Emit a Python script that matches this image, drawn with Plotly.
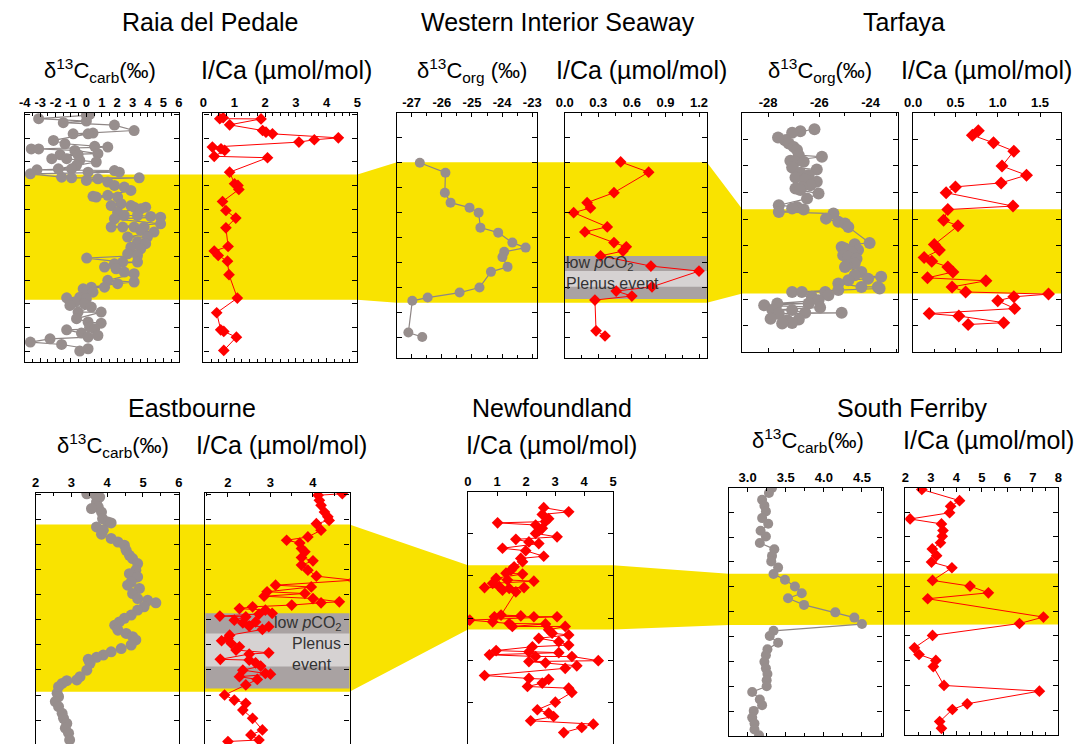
import plotly.graph_objects as go

W, H = 1082, 744
FONT = "Liberation Sans, Arial, Helvetica, sans-serif"

# ---------------- data: (depth in section units, proxy value) ----------------
raia_d13c = [
    (0.00, 0.21), (0.04, 0.00), (0.18, -3.10), (0.28, 0.00), (0.35, -1.50), (0.45, 1.82),
    (0.68, 3.10), (0.79, 0.43), (0.82, 0.11), (0.82, -0.86), (1.10, -2.14), (1.24, -1.39),
    (1.35, 0.54), (1.38, 1.39), (1.46, -3.58), (1.46, -3.10), (1.52, -0.75), (1.66, 0.75),
    (1.70, -1.71), (1.70, -0.54), (1.87, -2.25), (1.87, -1.28), (1.94, -0.43), (2.01, 0.64),
    (2.15, -0.64), (2.30, -1.82), (2.30, -0.96), (2.34, -3.21), (2.37, 1.82), (2.44, 0.11),
    (2.44, 2.14), (2.51, -3.64), (2.65, -1.61),
    (2.68, -0.96), (2.68, 3.43), (2.72, 0.75), (2.79, 0.00), (2.86, 1.39), (3.00, 1.82),
    (3.07, 2.46), (3.21, 2.89), (3.42, 1.39), (3.46, 0.43), (3.49, 0.64), (3.49, 2.03),
    (3.77, 2.25), (3.85, 1.61), (3.85, 2.89), (3.92, 3.10), (3.92, 3.85), (3.99, 3.53),
    (4.13, 2.03), (4.27, 2.46), (4.27, 3.32), (4.31, 4.18), (4.34, 4.82), (4.41, 1.82),
    (4.62, 4.82), (4.76, 1.61), (4.76, 2.36), (4.76, 3.10), (4.76, 3.75), (4.90, 3.53),
    (4.97, 4.39), (5.18, 2.68), (5.18, 3.96), (5.39, 3.32), (5.46, 3.85), (5.61, 2.89),
    (5.68, 3.53), (5.89, 2.68), (5.96, 3.32), (6.07, 0.02), (6.24, 2.36), (6.24, 3.32),
    (6.31, 1.82), (6.45, 1.18), (6.52, 1.93), (6.66, 2.46), (6.73, 3.10), (7.01, 1.39),
    (7.08, 3.10), (7.15, 2.03), (7.30, 0.32), (7.30, 1.18), (7.37, -0.21), (7.44, 0.00),
    (7.51, 0.43),
    (7.72, -0.43), (7.75, -1.28), (7.79, 0.00), (7.93, -0.75), (8.00, -0.11), (8.07, -1.07),
    (8.14, 0.32), (8.35, -0.54), (8.35, 0.96), (8.63, -0.64), (8.77, 0.11), (8.82, 0.96),
    (8.99, 0.21), (9.06, 0.54), (9.10, -1.28), (9.24, -0.32), (9.34, 0.75), (9.41, 0.11),
    (9.48, -2.36), (9.62, -3.64), (9.72, -1.61), (9.90, 0.11), (10.00, -0.43),
]
raia_ica = [
    (0.14, 0.64), (0.18, 0.53), (0.19, 1.87), (0.44, 0.85), (0.68, 1.92), (0.75, 2.03),
    (0.82, 2.24), (0.99, 4.38), (1.07, 3.60), (1.17, 3.10), (1.38, 0.29), (1.45, 0.57),
    (1.52, 0.69), (1.77, 0.35), (1.83, 2.08), (2.44, 0.85), (2.93, 1.01), (3.00, 1.12),
    (3.17, 1.15), (3.68, 0.62), (4.06, 0.73), (4.38, 1.05), (4.79, 0.73), (5.58, 0.80),
    (5.77, 0.35), (5.96, 0.48), (6.20, 0.78), (6.77, 0.83), (7.76, 1.10), (8.38, 0.43),
    (9.10, 0.56), (9.17, 0.66), (9.41, 1.07), (9.97, 0.66),
]
wis_d13corg = [
    (1.99, -26.73), (2.39, -25.88), (3.19, -25.90), (3.59, -25.71), (3.79, -25.08),
    (3.99, -24.78), (4.59, -24.72), (4.79, -24.13), (5.19, -23.66), (5.39, -23.22),
    (5.56, -23.93), (5.77, -23.99), (6.16, -23.82), (6.36, -24.37), (6.99, -24.75),
    (7.19, -25.41), (7.39, -26.47), (7.52, -26.98), (8.79, -27.11), (8.97, -26.65),
]
wis_ica = [
    (1.96, 0.50), (2.37, 0.75), (3.19, 0.44), (3.59, 0.20), (3.80, 0.23), (3.99, 0.08),
    (4.56, 0.38), (4.76, 0.18), (5.19, 0.44), (5.36, 0.55), (5.53, 0.52), (5.72, 0.32),
    (6.13, 0.77), (6.33, 1.20), (6.96, 0.78), (7.13, 0.46), (7.33, 0.60), (7.49, 0.27),
    (8.72, 0.28), (8.93, 0.36),
]
tarfaya_d13corg = [
    (0.63, -26.19), (0.70, -26.74), (0.76, -27.06), (0.94, -27.61), (1.04, -27.34),
    (1.16, -27.19), (1.29, -27.00), (1.41, -26.87), (1.60, -26.80), (1.66, -25.90),
    (1.81, -27.13), (1.85, -26.61), (1.85, -26.93), (2.06, -27.06), (2.14, -26.10),
    (2.26, -26.74), (2.35, -26.42), (2.44, -26.93), (2.51, -26.55), (2.60, -26.10),
    (2.73, -26.35), (2.79, -26.68), (2.85, -26.93), (2.91, -26.74), (3.04, -26.03),
    (3.23, -26.48), (3.48, -27.58), (3.54, -26.87), (3.60, -27.06), (3.64, -26.61),
    (3.73, -27.58), (3.79, -25.45), (3.98, -25.74), (4.10, -25.26), (4.16, -25.00),
    (4.29, -24.87), (4.89, -24.04), (4.94, -24.62), (5.04, -25.13), (5.10, -25.00),
    (5.16, -24.49), (5.23, -24.75), (5.35, -25.07), (5.41, -24.87), (5.48, -24.55),
    (5.66, -24.62), (5.73, -24.94), (5.79, -25.00), (5.98, -24.36), (6.10, -24.62),
    (6.16, -23.59), (6.23, -24.10), (6.29, -24.87), (6.41, -25.26), (6.54, -24.36),
    (6.54, -23.72), (6.60, -23.65), (6.66, -25.26), (6.73, -27.06), (6.73, -26.68),
    (6.73, -25.77), (6.85, -25.65), (6.91, -26.29), (7.04, -26.03), (7.16, -27.64),
    (7.16, -26.42), (7.23, -28.15), (7.31, -25.97), (7.41, -27.83), (7.41, -27.06),
    (7.51, -26.55), (7.51, -25.13), (7.54, -27.58), (7.73, -27.90), (7.76, -26.80),
    (7.79, -27.25), (7.89, -27.06), (7.91, -27.45),
]
tarfaya_ica = [
    (0.69, 0.77), (0.85, 0.70), (1.14, 0.95), (1.45, 1.19), (2.01, 1.05), (2.35, 1.34),
    (2.64, 1.04), (2.79, 0.50), (3.01, 0.39), (3.51, 1.18), (3.64, 0.41), (4.04, 0.36),
    (4.25, 0.53), (4.95, 0.25), (5.16, 0.31), (5.44, 0.13), (5.58, 0.22), (5.79, 0.41),
    (5.98, 0.47), (6.20, 0.17), (6.31, 0.86), (6.54, 0.46), (6.73, 0.62), (6.81, 1.60),
    (6.91, 1.19), (7.06, 1.00), (7.35, 1.20), (7.54, 0.19), (7.63, 0.54), (7.88, 1.07),
    (7.95, 0.65),
]
eastbourne_d13c = [
    (-0.01, 3.43), (0.01, 3.66), (0.12, 3.79), (0.32, 3.70), (0.52, 3.75), (0.58, 3.56),
    (0.72, 3.84), (0.98, 3.87), (1.11, 4.02), (1.15, 4.11), (1.31, 3.70), (1.44, 3.89),
    (1.60, 3.84), (1.77, 4.11), (1.91, 4.30), (2.04, 4.48), (2.24, 4.53), (2.44, 4.62),
    (2.57, 4.71), (2.77, 4.85), (3.03, 4.80), (3.17, 4.62), (3.30, 4.85), (3.50, 4.67),
    (3.63, 4.57), (3.76, 4.90), (3.96, 4.71), (4.16, 4.85), (4.23, 5.13), (4.33, 5.36),
    (4.49, 5.03), (4.62, 4.85), (4.82, 4.67), (4.95, 4.48), (5.09, 4.34), (5.22, 4.21),
    (5.42, 4.30), (5.55, 4.53), (5.68, 4.71), (5.81, 4.80), (6.01, 4.67), (6.15, 4.39),
    (6.28, 4.11), (6.41, 3.89), (6.50, 3.70), (6.58, 3.47), (6.74, 3.52), (7.01, 3.43),
    (7.27, 3.24), (7.40, 3.15), (7.43, 2.87), (7.54, 2.74), (7.67, 2.64), (7.93, 2.60),
    (8.07, 2.64), (8.26, 2.55), (8.46, 2.64), (8.73, 2.74), (8.93, 2.78), (9.13, 2.87),
    (9.32, 2.83), (9.52, 2.92), (9.79, 2.95),
]
eastbourne_ica = [
    (-0.01, 4.69), (0.05, 4.12), (0.25, 4.15), (0.45, 4.19), (0.72, 4.27), (0.91, 4.35),
    (1.05, 4.38), (1.18, 4.08), (1.44, 4.19), (1.71, 3.88), (1.84, 3.38), (1.95, 3.69),
    (2.17, 3.73), (2.30, 3.81), (2.53, 3.73), (2.66, 4.00), (2.83, 3.73), (3.03, 3.88),
    (3.27, 4.08), (3.43, 4.95), (3.63, 3.12), (3.70, 3.96), (3.89, 2.92), (3.96, 3.81),
    (4.07, 2.85), (4.16, 4.00), (4.29, 4.62), (4.33, 4.19), (4.42, 3.50), (4.49, 2.58),
    (4.56, 2.27), (4.62, 2.88), (4.75, 3.04), (4.78, 2.73), (4.86, 1.81), (4.89, 2.42),
    (5.02, 2.15), (5.09, 2.65), (5.13, 2.35), (5.26, 2.50), (5.28, 2.96), (5.39, 2.81),
    (5.62, 2.04), (5.75, 2.00), (5.84, 1.85), (5.95, 2.08), (6.08, 2.27), (6.21, 2.19),
    (6.32, 2.96), (6.37, 2.50), (6.58, 1.82), (6.61, 2.50), (6.72, 2.65), (6.85, 2.77),
    (7.01, 2.35), (7.14, 2.88), (7.17, 3.00), (7.27, 2.27), (7.38, 2.69), (7.60, 2.42),
    (8.00, 1.92), (8.20, 2.15), (8.33, 2.42), (8.60, 2.35), (8.93, 2.58), (9.39, 2.81),
    (9.59, 2.54), (9.79, 2.73), (9.85, 2.00),
]
newfoundland_ica = [
    (0.39, 2.61), (0.49, 3.47), (0.55, 2.56), (0.65, 2.78), (0.72, 2.67), (0.75, 1.02),
    (0.80, 2.33), (0.88, 2.56), (0.94, 2.44), (1.00, 2.33), (1.08, 3.07), (1.14, 1.65),
    (1.20, 2.10), (1.24, 2.44), (1.35, 1.19), (1.41, 1.99), (1.54, 2.61), (1.59, 1.82),
    (1.67, 1.88), (1.79, 1.59), (1.87, 1.48), (1.94, 1.31), (1.96, 1.88), (2.06, 0.97),
    (2.10, 1.36), (2.13, 2.27), (2.18, 0.85), (2.26, 1.08), (2.28, 0.57), (2.28, 1.93),
    (2.30, 1.42), (2.34, 1.19), (2.38, 1.65), (2.93, 1.14), (2.95, 1.82), (2.97, 0.91),
    (2.97, 2.27), (2.97, 3.07), (3.05, 0.06), (3.09, 0.85), (3.13, 1.42), (3.14, 2.67),
    (3.20, 1.53), (3.20, 3.35), (3.28, 2.78), (3.36, 2.90), (3.40, 3.47), (3.48, 2.44),
    (3.56, 3.13), (3.64, 3.47), (3.68, 2.22), (3.77, 0.97), (3.80, 2.10), (3.82, 3.13),
    (3.87, 0.74), (3.91, 2.33), (3.91, 3.58), (4.01, 4.49), (4.03, 2.10), (4.06, 2.67),
    (4.13, 3.75), (4.19, 3.35), (4.36, 0.57), (4.43, 2.10), (4.45, 2.78), (4.54, 2.56),
    (4.62, 2.05), (4.66, 3.47), (4.76, 3.58), (4.99, 3.01), (5.17, 2.39), (5.25, 2.78),
    (5.33, 2.95), (5.43, 2.16), (5.51, 4.32), (5.59, 3.92), (5.71, 3.30),
]
south_ferriby_d13c = [
    (0.03, 3.32), (0.23, 3.28), (0.50, 3.19), (0.74, 3.22), (0.97, 3.24), (1.24, 3.19),
    (1.47, 3.27), (1.75, 3.17), (1.98, 3.24), (2.24, 3.16), (2.49, 3.35), (2.76, 3.32),
    (2.98, 3.31), (3.23, 3.40), (3.49, 3.34), (3.72, 3.49), (3.99, 3.62), (4.26, 3.71),
    (4.46, 3.53), (4.73, 3.74), (5.03, 4.15), (5.24, 4.40), (5.50, 4.50), (5.77, 3.34),
    (5.98, 3.29), (6.25, 3.40), (6.51, 3.26), (6.75, 3.24), (7.02, 3.22), (7.28, 3.24),
    (7.51, 3.26), (7.76, 3.25), (8.00, 3.25), (8.23, 3.06), (8.53, 3.16), (8.76, 3.19),
    (8.99, 3.08), (9.26, 3.06), (9.50, 3.09), (9.74, 3.09), (9.97, 3.15),
]
south_ferriby_ica = [
    (0.09, 2.65), (0.54, 4.13), (0.77, 3.78), (1.03, 3.74), (1.28, 2.19), (1.48, 3.42),
    (1.75, 3.48), (1.98, 3.45), (2.24, 3.38), (2.49, 3.06), (2.76, 3.23), (3.02, 3.03),
    (3.25, 3.83), (3.76, 3.07), (3.99, 4.54), (4.26, 5.26), (4.50, 2.88), (5.24, 7.42),
    (5.50, 6.48), (5.98, 3.07), (6.48, 2.36), (6.75, 2.54), (6.99, 3.20), (7.24, 3.10),
    (8.00, 3.52), (8.23, 7.26), (8.74, 4.43), (8.97, 3.85), (9.46, 3.35), (9.73, 3.42),
]

# OAE2 interval (top, base) in section units, per site
oae2_interval = {
    "raia": (2.54, 7.83), "wis": (1.97, 7.60), "tarfaya": (3.63, 6.79),
    "eastbourne": (1.21, 7.87), "newfoundland": (1.75, 3.27), "south_ferriby": (3.48, 5.54),
}
# Plenus event: low pCO2 interval (outer) and Plenus Cold Event (inner)
plenus_outer = {"wis": (5.73, 7.45), "eastbourne": (4.75, 7.74)}
plenus_inner = {"wis": (6.33, 6.96), "eastbourne": (5.55, 6.87)}

# tick labels
raia_c_ticks = [-4, -3, -2, -1, 0, 1, 2, 3, 4, 5, 6]
raia_i_ticks = [0, 1, 2, 3, 4, 5]
wis_c_ticks = [-27, -26, -25, -24, -23]
wis_i_ticks = ["0.0", "0.3", "0.6", "0.9", "1.2"]
tarfaya_c_ticks = [-28, -26, -24]
tarfaya_i_ticks = ["0.0", "0.5", "1.0", "1.5"]
eastbourne_c_ticks = [2, 3, 4, 5, 6]
eastbourne_i_ticks = [2, 3, 4]
newfoundland_i_ticks = [0, 1, 2, 3, 4, 5]
south_ferriby_c_ticks = ["3.0", "3.5", "4.0", "4.5"]
south_ferriby_i_ticks = [2, 3, 4, 5, 6, 7, 8]

# ---------------- styling ----------------
YELLOW = "#f9e300"
GRAY_DARK = "#a9a2a2"
GRAY_LIGHT = "#d6d2d2"
CIRCLE = "#978e8d"
CIRCLE_LINE = "#8e8685"
RED = "#ff0000"
NOTE = "#333333"

# panel layout: box in pixels (left, right, top, bottom), x range, depth range (bottom, top)
panels = [
    dict(site="raia", data=raia_d13c, kind="c", box=(16, 172, 113, 362), xr=(-4, 6), yr=(10.46, -0.06),
         ticks=raia_c_ticks, minor=0.5, closed=True, ms=11),
    dict(site="raia", data=raia_ica, kind="i", box=(197, 353, 113, 362), xr=(0, 5), yr=(10.46, -0.06),
         ticks=raia_i_ticks, minor=0.25, closed=True, ms=9),
    dict(site="wis", data=wis_d13corg, kind="c", box=(393, 535, 113, 358), xr=(-27.49, -22.84), yr=(9.81, 0),
         ticks=wis_c_ticks, minor=0.5, closed=True, ms=10),
    dict(site="wis", data=wis_ica, kind="i", box=(563, 707, 113, 358), xr=(0, 1.27), yr=(9.81, 0),
         ticks=wis_i_ticks, minor=0.15, closed=True, ms=9),
    dict(site="tarfaya", data=tarfaya_d13corg, kind="c", box=(743, 901, 113, 352), xr=(-29, -22.92),
         yr=(8.98, 0.02), ticks=tarfaya_c_ticks, minor=1, closed=True, ms=12),
    dict(site="tarfaya", data=tarfaya_ica, kind="i", box=(916, 1066, 113, 352), xr=(0, 1.75),
         yr=(8.98, 0.02), ticks=tarfaya_i_ticks, minor=0.25, closed=True, ms=10),
    dict(site="eastbourne", data=eastbourne_d13c, kind="c", box=(27, 172, 493, 744), xr=(2, 6),
         yr=(9.95, -0.04), ticks=eastbourne_c_ticks, minor=0.5, closed=False, ms=11),
    dict(site="eastbourne", data=eastbourne_ica, kind="i", box=(199, 345, 493, 744), xr=(1.47, 4.86),
         yr=(9.95, -0.04), ticks=eastbourne_i_ticks, minor=0.5, closed=False, ms=9),
    dict(site="newfoundland", data=newfoundland_ica, kind="i", box=(465, 612, 492, 744), xr=(0, 5),
         yr=(5.98, 0.02), ticks=newfoundland_i_ticks, minor=None, closed=False, ms=9),
    dict(site="south_ferriby", data=south_ferriby_d13c, kind="c", box=(729, 885, 488, 736), xr=(2.75, 4.77),
         yr=(10.0, 0.03), ticks=south_ferriby_c_ticks, minor=0.25, closed=True, ms=10),
    dict(site="south_ferriby", data=south_ferriby_ica, kind="i", box=(908, 1063, 488, 735), xr=(2, 8),
         yr=(10.0, 0.03), ticks=south_ferriby_i_ticks, minor=0.5, closed=True, ms=9),
]


def paper_x(px):
    return px / W


def paper_y(py):
    return 1 - py / H


def depth_to_px(panel, depth):
    _, _, y0, y1 = panel["box"]
    bottom, top = panel["yr"]
    return y0 + (depth - top) / (bottom - top) * (y1 - y0)


fig = go.Figure()
layout = dict(
    width=W, height=H, margin=dict(l=0, r=0, t=0, b=0),
    paper_bgcolor="white", plot_bgcolor="rgba(0,0,0,0)",
    showlegend=False, font=dict(family=FONT, color="black"),
)

for k, p in enumerate(panels, start=1):
    x0, x1, y0, y1 = p["box"]
    sfx = "" if k == 1 else str(k)
    tickvals = [float(t) for t in p["ticks"]]
    xa = dict(
        domain=[paper_x(x0), paper_x(x1)], range=list(p["xr"]), anchor="y" + sfx, side="top",
        showline=True, linecolor="black", linewidth=1.3,
        mirror="ticks" if p["closed"] else False,
        ticks="inside", ticklen=4, tickwidth=1, tickcolor="black",
        tickmode="array", tickvals=tickvals, ticktext=[str(t) for t in p["ticks"]],
        tickfont=dict(size=13, family=FONT, color="black", weight="bold"),
        showgrid=False, zeroline=False, fixedrange=True,
    )
    if p["minor"]:
        xa["minor"] = dict(dtick=p["minor"], tick0=0, ticks="inside", ticklen=3,
                           tickwidth=1, tickcolor="black", showgrid=False)
    ya = dict(
        domain=[paper_y(y1), paper_y(y0)], range=list(p["yr"]), anchor="x" + sfx,
        showline=True, linecolor="black", linewidth=1.3, mirror="ticks",
        ticks="inside", ticklen=5, tickwidth=1, tickcolor="black", tick0=0, dtick=1,
        showticklabels=False, showgrid=False, zeroline=False, fixedrange=True,
    )
    layout["xaxis" + sfx] = xa
    layout["yaxis" + sfx] = ya

    pts = sorted(p["data"])
    depth = [d for d, _ in pts]
    vals = [v for _, v in pts]
    if p["kind"] == "c":
        marker = dict(symbol="circle", size=p["ms"], color=CIRCLE)
        line = dict(color=CIRCLE_LINE, width=1.2)
    else:
        marker = dict(symbol="diamond", size=p["ms"], color=RED)
        line = dict(color=RED, width=1)
    fig.add_trace(go.Scatter(x=vals, y=depth, mode="lines+markers", marker=marker, line=line,
                             xaxis="x" + sfx, yaxis="y" + sfx, hoverinfo="skip"))

# ---------------- OAE2 band with connectors between sites ----------------
shapes = []


def band_row(sites):
    top_pts, bot_pts = [], []
    for site in sites:
        ps = [p for p in panels if p["site"] == site]
        first, last = ps[0], ps[-1]
        t, b = oae2_interval[site]
        for ref, px_x in ((first, first["box"][0]), (last, last["box"][1])):
            top_pts.append((px_x, depth_to_px(ref, t)))
            bot_pts.append((px_x, depth_to_px(ref, b)))
    pts = top_pts + bot_pts[::-1]
    path = "M " + " L ".join(f"{paper_x(x):.5f},{paper_y(y):.5f}" for x, y in pts) + " Z"
    return dict(type="path", path=path, xref="paper", yref="paper", fillcolor=YELLOW,
                line=dict(width=0), layer="below")


shapes.append(band_row(["raia", "wis", "tarfaya"]))
shapes.append(band_row(["eastbourne", "newfoundland", "south_ferriby"]))

for site, axis_idx in (("wis", 4), ("eastbourne", 8)):
    for interval, color in ((plenus_outer[site], GRAY_DARK), (plenus_inner[site], GRAY_LIGHT)):
        shapes.append(dict(type="rect", xref=f"x{axis_idx} domain", yref=f"y{axis_idx}",
                           x0=0, x1=1, y0=interval[0], y1=interval[1],
                           fillcolor=color, line=dict(width=0), layer="below"))
layout["shapes"] = shapes

# ---------------- text ----------------
C_CARB = "δ<sup>13</sup>C<sub>carb</sub>(‰)"
C_ORG = "δ<sup>13</sup>C<sub>org</sub> (‰)"
C_ORG2 = "δ<sup>13</sup>C<sub>org</sub>(‰)"
ICA = "I/Ca (µmol/mol)"
annotations = []


def label(text, x, y, size, anchor="center", color="black", align="center"):
    annotations.append(dict(text=text, x=paper_x(x), y=paper_y(y), xref="paper", yref="paper",
                            xanchor=anchor, yanchor="middle", showarrow=False, align=align,
                            font=dict(size=size, family=FONT, color=color)))


for text, x, y in (("Raia del Pedale", 204, 22), ("Western Interior Seaway", 556, 22), ("Tarfaya", 907, 22),
                   ("Eastbourne", 185, 408), ("Newfoundland", 550, 408), ("South Ferriby", 915, 408)):
    label(text, x, y, 25)

for text, x, y in ((C_CARB, 92, 70), (C_ORG, 469, 70), (C_ORG2, 822, 70),
                   (C_CARB, 105, 445), (C_CARB, 809, 440)):
    label(text, x, y, 22)
for x, y in ((281, 70), (641, 70), (990, 70), (276, 445), (550, 445), (992, 440)):
    label(ICA, x, y, 25)

LOW = "low <i>p</i>CO<sub>2</sub>"
label(LOW + "<br>Plenus event", 562, 273, 16, anchor="left", color=NOTE, align="left")
label(LOW, 303, 623, 16, anchor="center", color=NOTE)
label("Plenus<br>event", 285, 654, 16, anchor="left", color=NOTE, align="left")
layout["annotations"] = annotations

fig.update_layout(layout)
fig.write_html("out.html")
